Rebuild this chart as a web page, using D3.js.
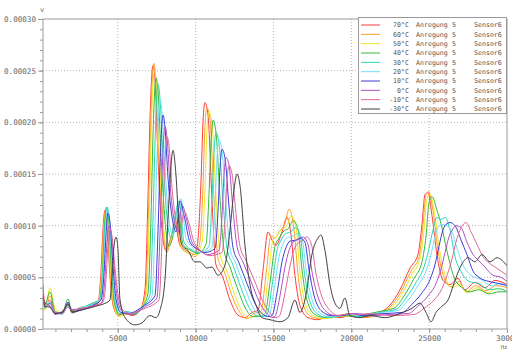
<!DOCTYPE html>
<html>
<head>
<meta charset="utf-8">
<script src="https://cdn.jsdelivr.net/npm/d3@7"></script>
<style>
  body { margin: 0; background: #fff; }
  svg { display: block; }
</style>
</head>
<body>
<svg id="chart" width="512" height="349"></svg>
<script>
// Spektren, Amplitude in 1e-5 V, Frequenz in Hz
const t70 = [[200,4.3],[330,2.3],[650,2.8],[970,1.6],[1420,1.5],[1810,2.5],[2060,1.6],[2580,1.9],[3090,2.1],[3540,2.3],
  [3730,2.5],[3930,5.7],[4050,9.6],[4180,11.5],[4310,10.1],[4500,5.2],[4700,2.3],[5020,1.35],[5470,1.5],[5920,1.3],[6430,1.8],
  [6750,3.8],[6940,12.5],[7070,20.2],[7260,25.5],[7390,24.2],[7590,16.4],[7840,9.6],[8100,7.6],[8360,8.6],[8680,10.1],[9000,8.1],[9510,7.5],[9960,7.2],
  [10150,8.6],[10350,14.4],[10480,20.2],[10600,21.9],[10800,20.7],[11050,12.5],[11310,6.2],[11700,5.2],[12210,2.8],[12720,1.35],[13170,1.1],[13620,1.6],
  [14010,1.8],[14330,5.7],[14650,9.4],[14910,8.6],[15160,8.1],[15550,9.4],[15870,10.8],[16130,9.1],[16380,5.2],[16700,2.3],[17220,1.1],[17860,0.9],[18630,1.3],[19270,1.1],[20040,1.35],[20880,1.2],[21840,1.6],
  [22480,2.3],[23130,3.8],[23770,5.9],[24280,7.2],[24540,10.1],[24730,13.0],[24930,13.2],[25180,11.0],[25500,7.2],[25890,4.7],[26340,4.3],[26850,4.9],[27300,3.8],[27940,4.5],[28580,4.0],[29230,4.7],[30000,4.3]];

const t60 = [[200,3.5],[330,2.0],[650,3.2],[970,1.8],[1420,1.4],[1810,2.2],[2060,1.7],[2580,2.0],[3090,2.2],[3540,2.4],
  [3760,2.6],[3960,5.5],[4080,9.5],[4210,11.4],[4340,10.0],[4530,5.0],[4730,2.2],[5050,1.3],[5500,1.6],[5950,1.4],[6450,1.9],
  [6810,3.6],[7000,12.8],[7130,20.8],[7330,25.7],[7450,24.0],[7650,16.0],[7900,9.8],[8160,7.4],[8420,8.8],[8740,10.4],[9060,7.9],[9570,7.3],[9990,7.0],
  [10280,8.5],[10480,14.0],[10600,19.6],[10730,21.4],[10930,20.2],[11180,12.6],[11440,6.8],[11830,5.6],[12340,3.2],[12850,1.6],[13300,1.0],[13750,1.5],
  [14200,1.7],[14520,5.2],[14840,9.0],[15100,8.8],[15350,9.4],[15740,10.2],[16000,11.6],[16320,9.6],[16570,5.4],[16900,2.4],[17410,1.2],[18050,1.0],[18820,1.2],[19460,1.2],[20100,1.3],[20880,1.1],[21840,1.5],
  [22540,2.2],[23190,3.6],[23830,5.6],[24350,7.0],[24600,10.0],[24800,13.0],[24990,13.3],[25250,11.4],[25570,7.6],[25950,5.0],[26400,4.1],[26920,4.6],[27360,3.6],[28000,4.2],[28650,3.7],[29290,4.2],[30000,4.0]];

const t50 = [[200,2.5],[330,1.8],[650,4.0],[970,2.0],[1420,1.6],[1810,2.3],[2060,1.5],[2580,2.1],[3090,2.2],[3540,2.5],
  [3790,2.7],[3990,5.6],[4120,9.4],[4240,11.2],[4370,10.2],[4570,5.4],[4760,2.4],[5080,1.2],[5530,1.4],[5980,1.5],[6490,2.0],
  [6850,3.5],[7040,12.0],[7170,20.0],[7360,25.0],[7490,23.6],[7690,16.5],[7940,10.0],[8200,7.8],[8450,8.5],[8780,10.6],[9100,8.0],[9610,7.4],[10020,7.2],
  [10410,8.4],[10610,13.8],[10730,19.3],[10860,21.0],[11060,19.8],[11310,12.8],[11570,7.2],[11960,5.8],[12470,3.5],[12980,1.7],[13430,1.1],[13880,1.3],
  [14330,1.6],[14650,4.8],[14970,8.6],[15230,9.0],[15480,9.6],[15870,10.0],[16130,11.0],[16450,9.8],[16700,5.6],[17020,2.6],[17540,1.3],[18180,1.0],[18820,1.1],[19460,1.3],[20100,1.2],[20880,1.3],[21840,1.6],
  [22610,2.1],[23260,3.4],[23900,5.3],[24410,6.8],[24670,9.6],[24860,12.6],[25060,13.0],[25310,11.6],[25630,8.0],[26020,5.2],[26470,4.0],[26980,4.3],[27430,3.5],[28070,4.0],[28710,3.5],[29360,3.9],[30000,3.7]];

const t40 = [[200,3.0],[330,2.4],[650,3.6],[970,1.7],[1420,1.5],[1810,2.9],[2060,1.6],[2580,1.9],[3090,2.3],[3540,2.6],
  [3830,2.8],[4030,5.8],[4150,9.8],[4280,11.8],[4410,10.6],[4600,5.6],[4790,2.5],[5110,1.4],[5560,1.6],[6020,1.4],[6520,2.0],
  [6940,3.4],[7140,11.0],[7260,18.5],[7460,24.3],[7590,23.0],[7780,16.8],[8040,10.4],[8290,8.0],[8550,9.0],[8870,11.6],[9190,8.2],[9700,7.6],[10150,7.3],
  [10670,8.2],[10860,13.0],[10990,18.0],[11120,20.2],[11310,19.0],[11570,12.6],[11830,7.6],[12210,6.0],[12720,3.8],[13240,1.9],[13690,1.2],[14130,1.2],
  [14460,1.5],[14780,4.5],[15100,8.0],[15360,8.8],[15610,9.4],[16000,9.8],[16260,10.5],[16580,9.6],[16830,5.8],[17150,2.8],[17670,1.4],[18310,1.1],[18950,1.2],[19590,1.3],[20230,1.2],[20880,1.4],[21840,1.7],
  [22740,2.0],[23390,3.2],[24030,4.9],[24540,6.5],[24800,9.0],[24990,12.2],[25190,12.8],[25500,11.5],[25760,10.2],[26150,7.5],[26600,5.0],[27110,4.0],[27560,3.6],[28200,3.8],[28840,3.4],[29490,3.6],[30000,3.6]];

const t30 = [[200,2.8],[330,2.0],[650,2.6],[970,1.5],[1420,1.6],[1810,2.4],[2060,1.8],[2580,2.0],[3090,2.3],[3540,2.5],
  [3860,2.9],[4060,6.0],[4180,10.0],[4310,11.8],[4440,10.8],[4630,5.8],[4830,2.6],[5150,1.5],[5600,1.7],[6050,1.5],[6560,2.1],
  [7070,3.3],[7260,10.5],[7390,17.8],[7580,23.7],[7710,22.4],[7910,16.6],[8160,10.8],[8420,8.8],[8680,11.0],[8940,12.4],[9260,8.4],[9830,7.6],[10280,7.4],
  [10860,8.0],[11050,12.4],[11180,17.0],[11310,19.0],[11500,18.0],[11760,12.4],[12020,7.8],[12400,6.2],[12910,4.0],[13430,2.1],[13880,1.3],[14330,1.2],
  [14590,1.4],[14910,4.2],[15230,7.6],[15490,8.6],[15740,9.2],[16130,9.4],[16390,9.8],[16700,9.2],[16960,5.8],[17280,3.0],[17800,1.5],[18440,1.1],[19080,1.2],[19720,1.4],[20360,1.2],[21010,1.3],[21840,1.6],
  [22870,1.9],[23520,3.0],[24160,4.5],[24670,6.0],[24990,7.8],[25250,9.6],[25500,10.8],[25760,10.6],[26020,10.8],[26340,9.6],[26660,7.0],[27110,5.4],[27560,4.6],[28200,4.4],[28840,3.8],[29490,3.9],[30000,3.6]];

const t20 = [[200,3.2],[330,2.2],[650,2.4],[970,1.7],[1420,1.4],[1810,2.2],[2060,1.7],[2580,2.1],[3090,2.2],[3540,2.5],
  [3890,2.9],[4090,5.8],[4210,9.7],[4340,11.5],[4470,10.6],[4660,5.9],[4860,2.8],[5180,1.6],[5630,1.6],[6080,1.6],[6590,2.1],
  [7200,3.2],[7390,10.0],[7520,16.6],[7710,22.2],[7840,21.0],[8040,15.4],[8290,10.6],[8550,9.0],[8810,11.4],[9060,12.6],[9380,8.8],[9960,7.7],[10410,7.4],
  [11050,7.9],[11250,12.0],[11370,16.4],[11500,18.3],[11700,17.2],[11950,12.0],[12210,7.8],[12590,6.3],[13110,4.2],[13620,2.3],[14070,1.4],[14520,1.2],
  [14720,1.3],[15040,3.8],[15360,7.0],[15610,8.2],[15870,8.8],[16260,9.0],[16510,9.2],[16830,8.8],[17090,5.8],[17410,3.2],[17930,1.6],[18570,1.2],[19210,1.3],[19850,1.4],[20490,1.3],[21140,1.4],[21970,1.6],
  [23000,1.8],[23650,2.8],[24280,4.2],[24800,5.6],[25120,7.2],[25380,9.0],[25630,10.0],[25890,10.1],[26150,10.0],[26470,9.4],[26790,7.8],[27240,6.0],[27690,5.2],[28330,4.8],[28970,4.2],[29620,4.4],[30000,4.1]];

const t10 = [[200,2.6],[330,2.5],[650,2.2],[970,1.6],[1420,1.5],[1810,2.6],[2060,1.6],[2580,1.8],[3090,2.1],[3540,2.4],
  [3920,2.8],[4120,5.4],[4250,9.2],[4370,11.2],[4500,10.4],[4700,6.0],[4890,2.9],[5210,1.6],[5660,1.5],[6110,1.7],[6620,2.2],
  [7390,3.2],[7590,9.6],[7710,15.6],[7910,20.7],[8030,19.6],[8230,14.6],[8490,10.8],[8740,9.4],[9000,12.4],[9260,11.0],[9640,8.4],[10150,7.7],[10600,7.4],
  [11250,7.8],[11440,11.4],[11570,15.6],[11700,17.4],[11890,16.5],[12150,11.8],[12400,7.9],[12790,6.4],[13300,4.4],[13810,2.5],[14260,1.5],[14710,1.2],
  [14910,1.3],[15230,3.5],[15550,6.5],[15810,7.9],[16060,8.5],[16450,8.6],[16700,8.8],[17020,8.4],[17280,5.8],[17600,3.3],[18120,1.7],[18760,1.3],[19400,1.3],[20040,1.5],[20690,1.3],[21330,1.4],[22160,1.5],
  [23260,1.6],[23900,2.4],[24540,3.5],[25060,4.8],[25370,6.2],[25630,8.0],[25890,9.6],[26150,10.2],[26340,10.3],[26660,10.0],[27050,8.6],[27430,7.2],[27820,5.6],[28200,5.0],[28840,4.6],[29490,4.4],[30000,4.2]];

const t0 = [[200,3.6],[330,2.1],[650,2.5],[970,1.4],[1420,1.7],[1810,2.3],[2060,1.9],[2580,1.9],[3090,2.0],[3540,2.2],
  [3990,2.6],[4180,5.0],[4310,8.4],[4440,10.0],[4570,9.4],[4760,6.2],[4950,3.2],[5280,1.7],[5720,1.4],[6180,1.6],[6690,2.1],
  [7520,3.0],[7710,9.0],[7840,14.8],[8040,19.6],[8160,18.6],[8360,14.0],[8610,10.6],[8870,9.4],[9130,12.0],[9450,10.4],[9770,8.4],[10280,7.6],[10730,7.2],
  [11500,7.6],[11700,11.0],[11830,15.0],[11950,16.6],[12150,15.8],[12400,11.6],[12660,8.0],[13040,6.5],[13560,4.6],[14070,2.7],[14520,1.6],[14970,1.1],
  [15100,1.2],[15420,3.2],[15740,6.0],[16000,7.6],[16260,8.4],[16640,8.7],[16900,8.9],[17220,8.2],[17470,5.6],[17800,3.4],[18310,1.8],[18950,1.3],[19590,1.4],[20230,1.5],[20880,1.4],[21520,1.3],[22360,1.4],
  [23650,1.5],[24280,2.2],[24930,3.2],[25440,4.4],[25760,5.8],[26020,7.4],[26270,8.9],[26530,9.7],[26720,10.0],[27050,9.8],[27430,8.4],[27820,7.2],[28200,6.6],[28580,6.0],[29100,5.2],[29620,5.0],[30000,4.6]];

const tm10 = [[200,3.0],[330,2.6],[650,2.2],[970,1.6],[1420,1.5],[1810,2.1],[2060,1.8],[2580,2.0],[3090,2.1],[3540,2.3],
  [4050,2.6],[4250,4.8],[4370,8.0],[4500,9.6],[4630,9.0],[4820,6.0],[5020,3.3],[5340,1.8],[5790,1.5],[6240,1.7],[6750,2.0],
  [7650,2.8],[7840,8.4],[7970,14.0],[8160,18.6],[8290,17.8],[8490,13.6],[8740,10.4],[9000,9.2],[9260,11.4],[9580,10.2],[9900,8.4],[10410,7.5],[10860,7.1],
  [11700,7.4],[11890,10.6],[12020,14.4],[12150,15.8],[12340,15.0],[12590,11.2],[12850,8.0],[13240,6.6],[13750,4.8],[14260,2.9],[14710,1.7],[15160,1.1],
  [15360,1.2],[15680,3.0],[16000,5.6],[16260,7.4],[16510,8.2],[16900,8.6],[17150,8.9],[17470,8.0],[17730,5.4],[18050,3.4],[18570,1.9],[19210,1.3],[19850,1.5],[20490,1.4],[21140,1.5],[21780,1.4],[22610,1.3],
  [24030,1.4],[24670,2.0],[25310,2.8],[25820,3.9],[26150,5.2],[26470,6.8],[26720,8.4],[27050,9.8],[27370,10.3],[27690,9.4],[28070,8.2],[28460,7.0],[28840,6.4],[29230,6.0],[29620,5.6],[30000,5.2]];

const tm30 = [[200,3.3],[330,2.2],[650,2.1],[970,1.5],[1420,1.6],[1810,2.4],[2060,1.7],[2580,1.8],[3090,2.0],[3540,2.2],[4050,2.4],
  [4500,2.8],[4630,5.0],[4760,8.0],[4890,8.9],[5010,7.8],[5140,2.9],[5470,1.1],[6100,0.4],[6560,0.6],[7070,1.3],[7460,1.1],[7710,1.8],
  [8030,4.7],[8290,12.5],[8550,17.3],[8740,14.9],[8930,10.1],[9130,8.1],[9510,7.6],[9960,6.5],[10280,6.5],[10730,5.9],[11050,6.0],[11440,5.2],[11890,6.2],
  [12210,9.6],[12470,13.5],[12660,15.0],[12850,13.9],[13170,8.1],[13490,4.3],[13880,2.3],[14260,1.1],[14780,0.9],[15420,0.7],
  [15930,1.1],[16380,2.8],[16700,1.6],[17090,3.3],[17470,7.2],[17860,8.8],[18050,9.1],[18310,7.6],[18630,4.3],[18950,2.5],[19270,2.0],[19590,3.0],[19910,1.3],[20560,1.1],[21200,1.3],[22160,1.1],[23130,1.5],
  [23900,2.0],[24410,2.5],[24800,1.6],[25120,0.7],[25440,1.6],[25820,2.2],[26210,2.8],[26660,4.7],[27110,6.3],[27500,6.9],[27940,6.5],[28390,7.2],[28910,6.5],[29360,6.9],[30000,6.1]];

const seriesData = [t70, t60, t50, t40, t30, t20, t10, t0, tm10, tm30];
const tempLabels = ["70°C", "60°C", "50°C", "40°C", "30°C", "20°C", "10°C", "0°C", "-10°C", "-30°C"];
const colors = ["#ff3a3a", "#ffa030", "#f0e820", "#38b838", "#28d8b8", "#70e0ff", "#3c3cd8", "#b050c8", "#e06898", "#404040"];
const yTicks = [0, 5, 10, 15, 20, 25, 30];
const xTicks = [5000, 10000, 15000, 20000, 25000, 30000];

const svg = d3.select('#chart');
const plotLeft = 43, plotRight = 507, plotTop = 19, plotBottom = 329;
const gray = '#9a9a9a';
const font = 'DejaVu Sans Mono, monospace';

const x = d3.scaleLinear().domain([200, 30000]).range([plotLeft, plotRight]);
const y = d3.scaleLinear().domain([0, 30]).range([plotBottom, plotTop]);

// Gitterlinien (gepunktet)
const grid = svg.append('g');
grid.selectAll('line.gx')
  .data(xTicks.filter(d => d < 30000))
  .enter().append('line')
  .attr('x1', d => x(d)).attr('x2', d => x(d))
  .attr('y1', plotTop).attr('y2', plotBottom)
  .attr('stroke', '#b4b4b4').attr('stroke-width', 1).attr('stroke-dasharray', '1,2');
grid.selectAll('line.gy')
  .data(yTicks.filter(d => d > 0 && d < 30))
  .enter().append('line')
  .attr('x1', plotLeft).attr('x2', plotRight)
  .attr('y1', d => y(d)).attr('y2', d => y(d))
  .attr('stroke', '#b4b4b4').attr('stroke-width', 1).attr('stroke-dasharray', '1,2');

// Kurven
svg.append('defs').append('clipPath').attr('id', 'clip')
  .append('rect').attr('x', plotLeft).attr('y', plotTop)
  .attr('width', plotRight - plotLeft).attr('height', plotBottom - plotTop);

const line = d3.line()
  .x(d => x(d[0]))
  .y(d => y(d[1]))
  .curve(d3.curveMonotoneX);

svg.append('g').attr('clip-path', 'url(#clip)')
  .selectAll('path')
  .data(seriesData)
  .enter().append('path')
  .attr('d', d => line(d))
  .attr('fill', 'none')
  .attr('stroke', (d, i) => colors[i])
  .attr('stroke-width', 1);

// Achsen
const yAxis = d3.axisLeft(y).tickValues(yTicks).tickSize(5)
  .tickFormat(d => (d * 1e-5).toFixed(5));
const yMinor = d3.axisLeft(y).tickValues(d3.range(0, 31, 1)).tickSize(3).tickFormat('');
const xAxis = d3.axisBottom(x).tickValues(xTicks).tickSize(4).tickFormat(d => d);
const xMinor = d3.axisBottom(x).tickValues(d3.range(1000, 30001, 1000)).tickSize(3).tickFormat('');

function styleAxis(g) {
  g.select('.domain').remove();
  g.selectAll('line').attr('stroke', gray);
  g.selectAll('text').attr('fill', '#666').style('font-family', font).style('font-size', '7.6px');
}

svg.append('g').attr('transform', `translate(${plotLeft},0)`).call(yMinor).call(styleAxis);
svg.append('g').attr('transform', `translate(${plotLeft},0)`).call(yAxis).call(styleAxis)
  .selectAll('text').attr('dx', '1px');
svg.append('g').attr('transform', `translate(0,${plotBottom})`).call(xMinor).call(styleAxis);
svg.append('g').attr('transform', `translate(0,${plotBottom})`).call(xAxis).call(styleAxis)
  .selectAll('text').attr('dy', '0.6em');

// Rahmen
svg.append('rect')
  .attr('x', plotLeft).attr('y', plotTop)
  .attr('width', plotRight - plotLeft).attr('height', plotBottom - plotTop)
  .attr('fill', 'none').attr('stroke', gray).attr('stroke-width', 1);

// Einheiten
svg.append('text').attr('x', plotLeft - 1).attr('y', 12).attr('text-anchor', 'middle')
  .attr('fill', '#666').style('font-family', font).style('font-size', '7px').text('v');
svg.append('text').attr('x', plotRight - 3).attr('y', 348.5).attr('text-anchor', 'middle')
  .attr('fill', '#666').style('font-family', font).style('font-size', '5.5px').text('Hz');

// Legende
const lg = svg.append('g');
lg.append('rect').attr('x', 358.5).attr('y', 17.5).attr('width', 148).attr('height', 96)
  .attr('fill', '#fff').attr('stroke', gray);
const rowY = d3.scaleLinear().domain([0, 9]).range([25, 109]);
const rows = lg.selectAll('g.row').data(tempLabels).enter().append('g')
  .attr('transform', (d, i) => `translate(0,${rowY(i)})`);
rows.append('line').attr('x1', 361).attr('x2', 380).attr('y1', 0).attr('y2', 0)
  .attr('stroke', (d, i) => colors[i]).attr('stroke-width', 1);
const txt = sel => sel.attr('fill', '#555').style('font-family', font).style('font-size', '6.6px').attr('dy', '0.35em');
rows.append('text').attr('x', 409).attr('text-anchor', 'end').text(d => d).call(txt);
rows.append('text').attr('x', 416).text('Anregung').call(txt);
rows.append('text').attr('x', 452).text('5').call(txt);
rows.append('text').attr('x', 474).text('Sensor6').call(txt);
</script>
</body>
</html>
